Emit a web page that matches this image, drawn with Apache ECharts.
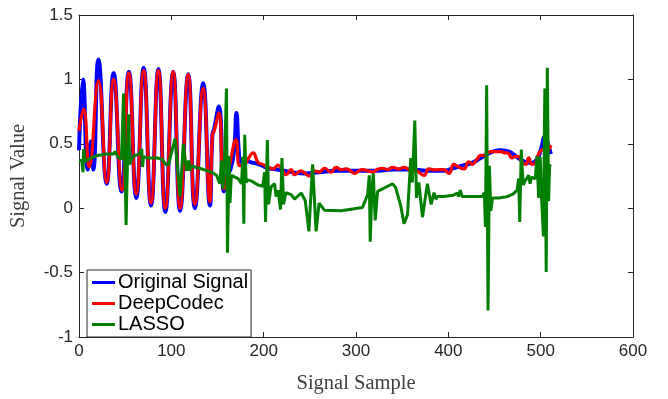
<!DOCTYPE html>
<html>
<head>
<meta charset="utf-8">
<script src="https://cdn.jsdelivr.net/npm/echarts@6/dist/echarts.min.js"></script>
<style>html,body{margin:0;padding:0;background:#fff}#c{width:668px;height:399px}</style>
</head>
<body>
<div id="c"></div>
<script>
const seriesNames = ['Original Signal', 'DeepCodec', 'LASSO'];
const xTicks = [0, 100, 200, 300, 400, 500, 600];
const yTicks = [-1, -0.5, 0, 0.5, 1, 1.5];

const origX = [0,4.3,9.5,13,15.5,21,30,37.5,46,54,62,70,78,86,93.5,102,109.5,118.3,125.5,134.5,141.7,144.5,146.5,151.4,157,160,164,168,170.5,173,175,178,185,195,205,215,230,245,260,280,300,320,340,360,380,395,405,415,425,435,445,455,465,472,480,490,496,500,505,508,511];
const origY = [0.45,1.0,0.3,0.52,0.3,1.155,0.19,1.05,0.13,1.06,0.08,1.09,0.02,1.08,-0.03,1.06,-0.02,1.04,0.0,0.97,0.02,0.57,0.62,0.79,0.13,0.25,0.3,0.45,0.74,0.45,0.36,0.38,0.36,0.34,0.31,0.3,0.28,0.27,0.28,0.29,0.29,0.29,0.3,0.3,0.29,0.29,0.31,0.33,0.35,0.39,0.43,0.45,0.44,0.41,0.37,0.35,0.38,0.45,0.56,0.5,0.42];

const codecX = [0,5,11,21,30,37.5,46.5,54,62,70,78,86,93.5,102,109.5,118.3,125.5,134.5,141.7,144.5,146.5,151.4,157,163,170,174,178,183,188.5,194,199,204.7,210,215.5,220,224.5,229.8,233.4,240,245,249.6,255,260,265.8,273,278.4,284,289.2,294,298.2,303,307.2,313,318,323,328.8,334,339.6,346,352,358,363,368,373.7,379,386,390,395,400.7,406,411,417,422,426,431,435,440,445.6,451,456.4,461,464,469,472,476,480,484,487,490.6,494,497.8,503,507,511];
const codecY = [0.6,0.77,0.32,0.99,0.2,1.0,0.14,1.05,0.11,1.07,0.04,1.07,0.0,1.06,0.0,1.04,0.03,0.93,0.05,0.57,0.6,0.74,0.15,0.33,0.53,0.33,0.33,0.38,0.43,0.355,0.34,0.318,0.305,0.335,0.3,0.26,0.3,0.26,0.29,0.27,0.25,0.29,0.28,0.31,0.28,0.317,0.3,0.305,0.29,0.27,0.29,0.3,0.29,0.28,0.3,0.31,0.3,0.317,0.305,0.317,0.3,0.297,0.28,0.255,0.305,0.297,0.3,0.3,0.27,0.34,0.32,0.305,0.36,0.34,0.38,0.41,0.41,0.44,0.44,0.44,0.43,0.43,0.39,0.4,0.4,0.355,0.34,0.39,0.34,0.35,0.42,0.455,0.45,0.49];

const lassoX = [0,3,4.3,5,6.5,10,20,30,37,39,42,46,48.2,51,53.6,55,58,65,68,68.8,70,75,85,90,94,97,104,109.4,113,116.5,118.5,120,122,125.5,135,143.5,149,152.5,154.3,156,157.9,159.7,160.8,162.6,163.5,165,172.3,176,177.5,178.5,179.5,181,183,187,194,199,201,202,204,205.3,208,211.8,213.5,215.5,218.3,219.8,221.6,224,229.8,233.5,240.6,245,249,253,256.8,260,262,265.8,283.8,307,312.6,314.4,315.4,317,318.7,320.8,323.4,339.6,343,348.5,352,355.8,359.3,361,363.7,365.5,368,372,377.3,381.3,384.5,386.5,388,395,405,409.7,411,413,415,425,436.7,439,440.2,441.5,443,444.5,446,448,455,463.7,470,474.5,476.2,477.3,479,481,483,487,488.5,490,494.2,496,497.8,499.5,501,503,504.5,506,507.2,508.6,509.7,511];
const lassoY = [0.37,0.37,0.28,0.46,0.36,0.38,0.41,0.42,0.42,0.44,0.40,0.38,0.89,-0.13,0.73,0.34,0.40,0.42,0.46,0.32,0.40,0.39,0.39,0.38,0.34,0.34,0.54,0.09,0.50,0.29,0.37,0.29,0.33,0.32,0.30,0.28,0.255,0.19,0.37,0.15,0.44,0.93,-0.345,0.405,0.04,0.255,0.23,0.19,0.40,-0.12,0.57,0.20,0.22,0.21,0.18,0.17,0.28,-0.107,0.53,0.03,0.165,0.19,0.09,0.14,-0.01,0.39,0.03,0.12,0.105,0.07,0.118,0.06,-0.18,0.34,-0.18,0.04,0.05,-0.015,-0.02,0.005,0.105,0.255,-0.26,0.10,0.27,-0.095,0.13,0.19,0.16,0.017,-0.12,-0.05,0.39,0.20,0.68,0.08,0.20,-0.07,0.19,0.03,0.12,0.07,0.09,0.09,0.10,0.118,0.09,0.14,0.09,0.09,0.09,0.12,-0.145,0.955,-0.795,0.33,-0.02,0.08,0.08,0.09,0.11,0.14,0.23,-0.107,0.455,0.18,0.21,0.255,0.19,0.24,0.23,0.405,0.08,0.40,0.08,-0.22,0.93,-0.495,1.09,0.055,0.33,0.34];

function pairs(xs, ys) { return xs.map((x, i) => [x, ys[i]]); }

const axisColor = '#262626';
const labelFont = { fontFamily: 'Liberation Sans, Arial, sans-serif', fontSize: 17, color: axisColor };
const titleFont = { fontFamily: 'Liberation Serif, Times New Roman, serif', fontSize: 20.5, color: '#404040' };
const lineAxis = { show: true, onZero: false, lineStyle: { color: axisColor, width: 1 } };
const tickIn = { show: true, inside: true, length: 5, lineStyle: { color: axisColor } };

const chart = echarts.init(document.getElementById('c'), null, { renderer: 'canvas' });
chart.setOption({
  animation: false,
  backgroundColor: '#ffffff',
  grid: { left: 77, right: 35, top: 15, bottom: 51.5, containLabel: false },
  legend: {
    data: seriesNames,
    orient: 'vertical',
    left: 87, top: 270,
    backgroundColor: '#ffffff',
    borderColor: '#262626', borderWidth: 1,
    padding: [2, 3, 2, 5],
    icon: 'rect',
    itemWidth: 23, itemHeight: 3,
    itemGap: 0,
    textStyle: { fontFamily: 'Liberation Sans, Arial, sans-serif', fontSize: 20, color: '#000', lineHeight: 21, padding: [0, 0, 0, -2] }
  },
  xAxis: [{
    type: 'value', min: xTicks[0], max: xTicks[xTicks.length - 1], interval: 100, position: 'bottom',
    name: 'Signal Sample', nameLocation: 'middle', nameGap: 36, nameTextStyle: titleFont,
    axisLine: lineAxis, axisTick: tickIn,
    axisLabel: Object.assign({ margin: 6 }, labelFont),
    splitLine: { show: false }
  }, {
    type: 'value', min: xTicks[0], max: xTicks[xTicks.length - 1], interval: 100, position: 'top',
    axisLine: lineAxis, axisTick: tickIn,
    axisLabel: { show: false }, splitLine: { show: false }
  }],
  yAxis: [{
    type: 'value', min: yTicks[0], max: yTicks[yTicks.length - 1], interval: 0.5, position: 'left',
    name: 'Signal Value', nameLocation: 'middle', nameGap: 50, nameTextStyle: titleFont,
    axisLine: lineAxis, axisTick: tickIn,
    axisLabel: Object.assign({ margin: 6 }, labelFont),
    splitLine: { show: false }
  }, {
    type: 'value', min: yTicks[0], max: yTicks[yTicks.length - 1], interval: 0.5, position: 'right',
    axisLine: lineAxis, axisTick: tickIn,
    axisLabel: { show: false }, splitLine: { show: false }
  }],
  series: [
    { name: seriesNames[0], type: 'line', data: pairs(origX, origY), symbol: 'none', smooth: 0.5,
      lineStyle: { color: '#0000ff', width: 4 }, itemStyle: { color: '#0000ff' }, z: 2 },
    { name: seriesNames[1], type: 'line', data: pairs(codecX, codecY), symbol: 'none', smooth: 0.5,
      lineStyle: { color: '#ff0000', width: 3.2 }, itemStyle: { color: '#ff0000' }, z: 3 },
    { name: seriesNames[2], type: 'line', data: pairs(lassoX, lassoY), symbol: 'none',
      lineStyle: { color: '#007f00', width: 3 }, itemStyle: { color: '#007f00' }, z: 4 }
  ]
});
</script>
</body>
</html>
